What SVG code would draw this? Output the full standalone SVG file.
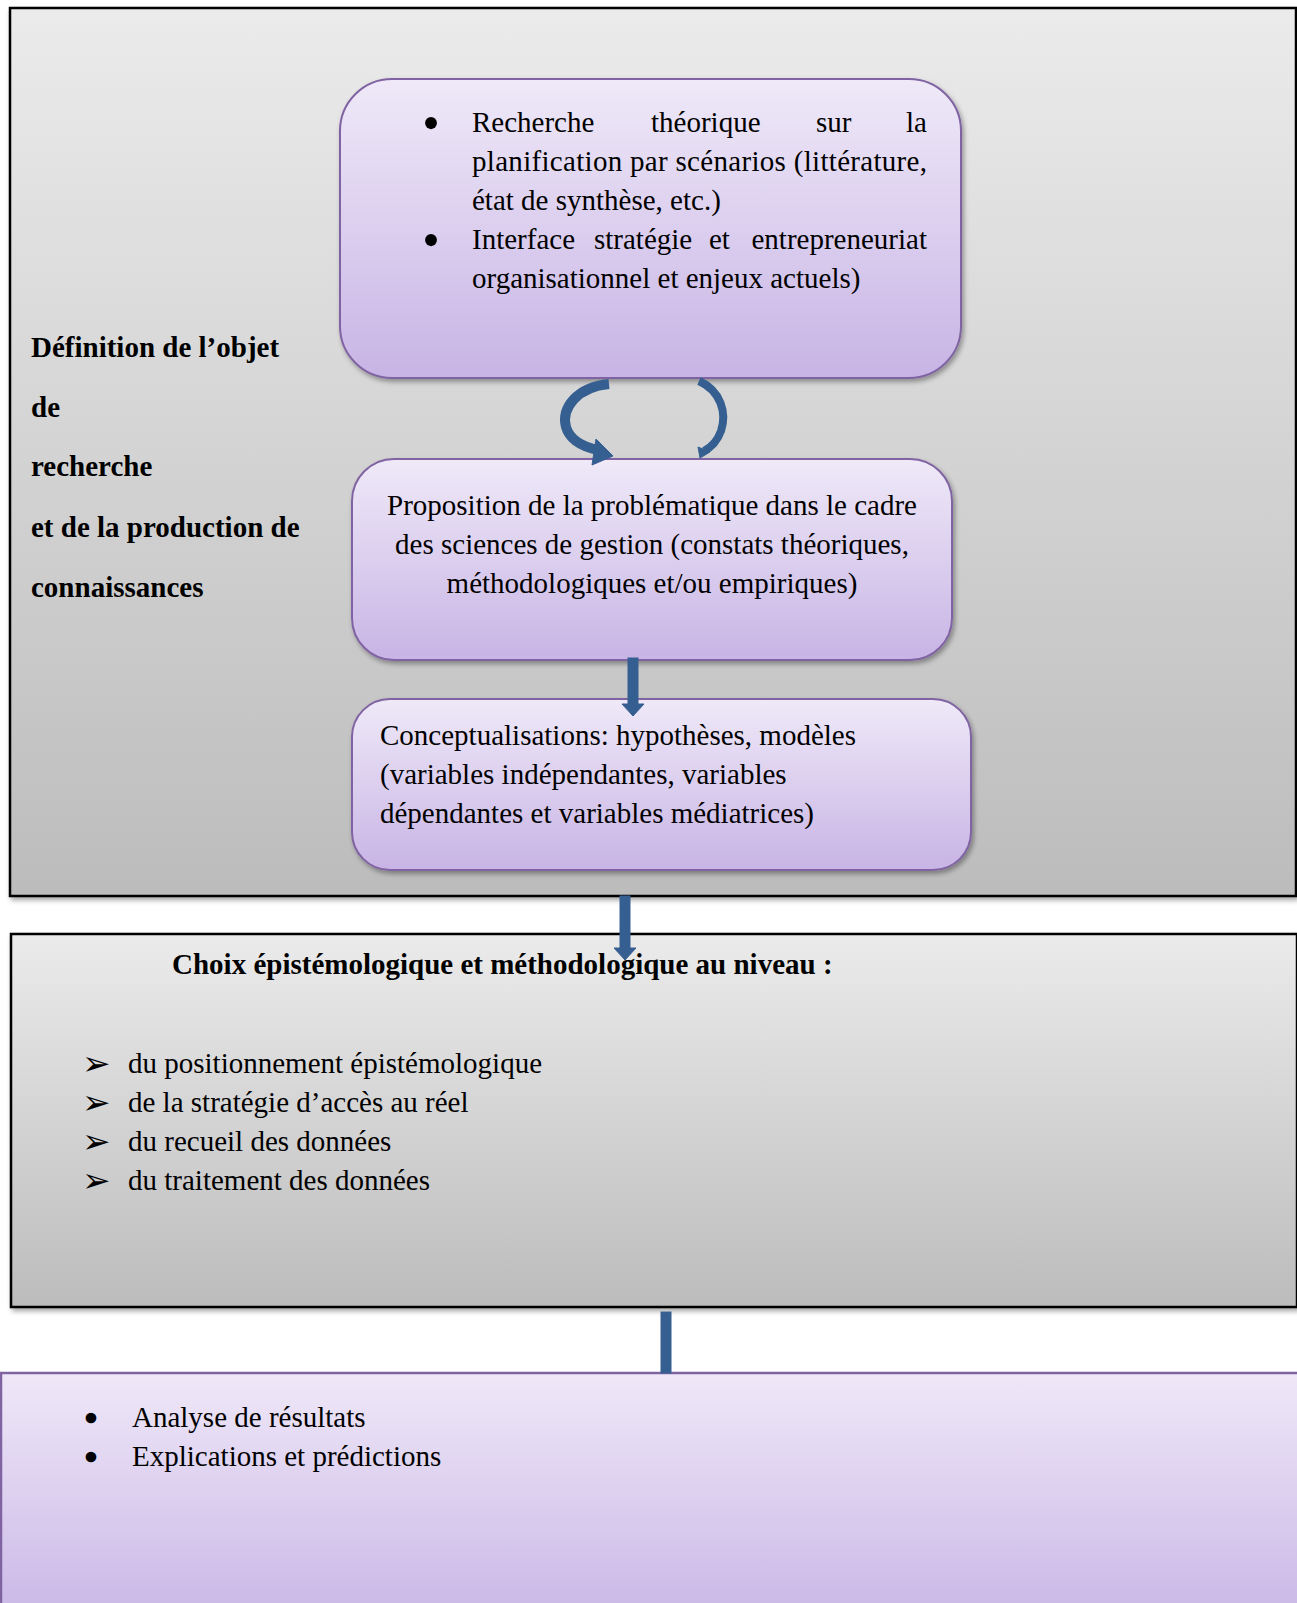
<svg xmlns="http://www.w3.org/2000/svg" width="1297" height="1603" viewBox="0 0 1297 1603">
<style>
.t{font-family:"Liberation Serif","Times New Roman",serif;font-size:29px;fill:#000}
.b{font-weight:bold}
.bul{font-family:"Liberation Serif",serif;font-size:50px;text-anchor:middle}
.bul2{font-family:"Liberation Serif",serif;font-size:34px;text-anchor:middle;stroke:#000;stroke-width:2.5}
.arr{font-family:"DejaVu Sans",sans-serif;font-size:34px}
.node{stroke:#8064A2;stroke-width:2;fill:url(#pg)}
.frame{stroke:#000;stroke-width:2.5;fill:url(#gg)}
.conn{fill:#365F91;stroke:#365F91}
</style>
<defs>
<linearGradient id="pg" x1="0" y1="0" x2="0" y2="1"><stop offset="0" stop-color="#EFE9F8"/><stop offset="1" stop-color="#C8B4E5"/></linearGradient>
<linearGradient id="gg" x1="0" y1="0" x2="0" y2="1"><stop offset="0" stop-color="#EBEBEB"/><stop offset="1" stop-color="#BCBCBC"/></linearGradient>
<linearGradient id="pg3" x1="0" y1="0" x2="0" y2="1"><stop offset="0" stop-color="#EFE8F8"/><stop offset="1" stop-color="#CBB8E7"/></linearGradient>
<filter id="sh" x="-5%" y="-5%" width="112%" height="115%"><feDropShadow dx="2" dy="3" stdDeviation="2.5" flood-color="#000" flood-opacity="0.35"/></filter>
</defs>
<rect width="1297" height="1603" fill="#fff"/>

<g id="frame1">
<rect class="frame" x="10" y="8" width="1286" height="888" filter="url(#sh)"/>
<text class="t b" x="31" y="357">Définition de l’objet</text>
<text class="t b" x="31" y="417">de</text>
<text class="t b" x="31" y="476">recherche</text>
<text class="t b" x="31" y="537">et de la production de</text>
<text class="t b" x="31" y="597">connaissances</text>
</g>

<g id="node1">
<rect class="node" x="340" y="79" width="621" height="299" rx="52" filter="url(#sh)"/>
<text class="bul" x="431" y="140">•</text>
<text class="bul" x="431" y="257">•</text>
<text class="t" x="472" y="132">Recherche</text>
<text class="t" x="651" y="132">théorique</text>
<text class="t" x="816" y="132">sur</text>
<text class="t" x="927" y="132" text-anchor="end">la</text>
<text class="t" x="472" y="171" textLength="455" lengthAdjust="spacing">planification par scénarios (littérature,</text>
<text class="t" x="472" y="210">état de synthèse, etc.)</text>
<text class="t" x="472" y="249">Interface</text>
<text class="t" x="594" y="249">stratégie</text>
<text class="t" x="709" y="249">et</text>
<text class="t" x="927" y="249" text-anchor="end">entrepreneuriat</text>
<text class="t" x="472" y="288">organisationnel et enjeux actuels)</text>
</g>

<g id="node2">
<rect class="node" x="352" y="459" width="600" height="201" rx="42" filter="url(#sh)"/>
<text class="t" x="652" y="515" text-anchor="middle">Proposition de la problématique dans le cadre</text>
<text class="t" x="652" y="554" text-anchor="middle">des sciences de gestion (constats théoriques,</text>
<text class="t" x="652" y="593" text-anchor="middle">méthodologiques et/ou empiriques)</text>
</g>

<g id="node3">
<rect class="node" x="352" y="699" width="619" height="171" rx="38" filter="url(#sh)"/>
<text class="t" x="380" y="745">Conceptualisations: hypothèses, modèles</text>
<text class="t" x="380" y="784">(variables indépendantes, variables</text>
<text class="t" x="380" y="823">dépendantes et variables médiatrices)</text>
</g>

<g id="frame2">
<rect class="frame" x="11" y="934" width="1286" height="373" filter="url(#sh)"/>
<text class="t b" x="172" y="974">Choix épistémologique et méthodologique au niveau :</text>
<text class="arr" x="82" y="1075">➢</text>
<text class="arr" x="82" y="1114">➢</text>
<text class="arr" x="82" y="1153">➢</text>
<text class="arr" x="82" y="1192">➢</text>
<text class="t" x="128" y="1073">du positionnement épistémologique</text>
<text class="t" x="128" y="1112">de la stratégie d’accès au réel</text>
<text class="t" x="128" y="1151">du recueil des données</text>
<text class="t" x="128" y="1190">du traitement des données</text>
</g>

<g id="node4">
<rect x="1" y="1373" width="1300" height="240" fill="url(#pg3)" stroke="#8064A2" stroke-width="2.5"/>
<text class="bul2" x="91" y="1430">•</text>
<text class="bul2" x="91" y="1469">•</text>
<text class="t" x="132" y="1427">Analyse de résultats</text>
<text class="t" x="132" y="1466">Explications et prédictions</text>
</g>

<g id="connectors">
<path d="M 609 384 C 577 387 561 408 566 427 C 570 441 584 447 598 450" fill="none" stroke="#365F91" stroke-width="10" stroke-linecap="butt"/>
<polygon class="conn" points="596,439 613,456 592,465"/>
<path d="M 699 381 C 721 391 727 413 721 431 C 717 442 710 448 704 451" fill="none" stroke="#365F91" stroke-width="8"/>
<polygon class="conn" points="698,447 710,452 700,458" />
<rect class="conn" x="628" y="658" width="10" height="47" stroke="none"/>
<polygon class="conn" points="622,704 644,704 633,716" stroke="none"/>
<rect class="conn" x="620" y="896" width="10" height="53" stroke="none"/>
<polygon class="conn" points="614,948 636,948 625,960" stroke="none"/>
<rect class="conn" x="661" y="1312" width="10" height="61" stroke="#6A8AB5" stroke-width="1"/>
</g>
</svg>
